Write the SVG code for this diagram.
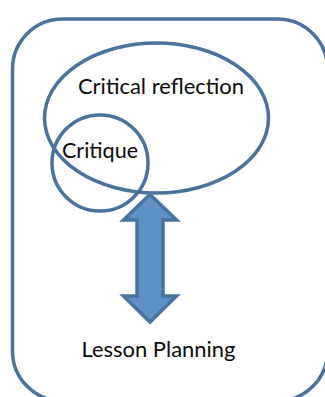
<svg xmlns="http://www.w3.org/2000/svg" width="325" height="397" viewBox="0 0 325 397">
<style>
.s{fill:none;stroke:#48739f;stroke-width:3.500}
text{font-family:Lato,"Open Sans","Liberation Sans",sans-serif;font-size:21px;fill:#0a0a0a}
</style>
<rect width="325" height="397" fill="#fff"/>
<g id="frame"><rect class="s" x="12.500" y="19" width="315" height="382" rx="50" ry="50"/></g>
<g id="critical-reflection"><ellipse class="s" cx="156.500" cy="118" rx="112" ry="75"/><text x="78" y="94" textLength="166" lengthAdjust="spacingAndGlyphs">Critical reflection</text></g>
<g id="critique"><ellipse class="s" cx="100" cy="163" rx="48" ry="48"/><text x="62" y="158" textLength="76" lengthAdjust="spacingAndGlyphs">Critique</text></g>
<g id="connectors"><path d="M150 194.500 L176.500 220 H163 V296 H176.500 L150 322 L123.500 296 H137 V220 H123.500 Z" fill="#5f91c6" stroke="#48739f" stroke-width="3.500"/></g>
<g id="lesson-planning"><text x="81.500" y="357" textLength="154" lengthAdjust="spacingAndGlyphs">Lesson Planning</text></g>
</svg>
